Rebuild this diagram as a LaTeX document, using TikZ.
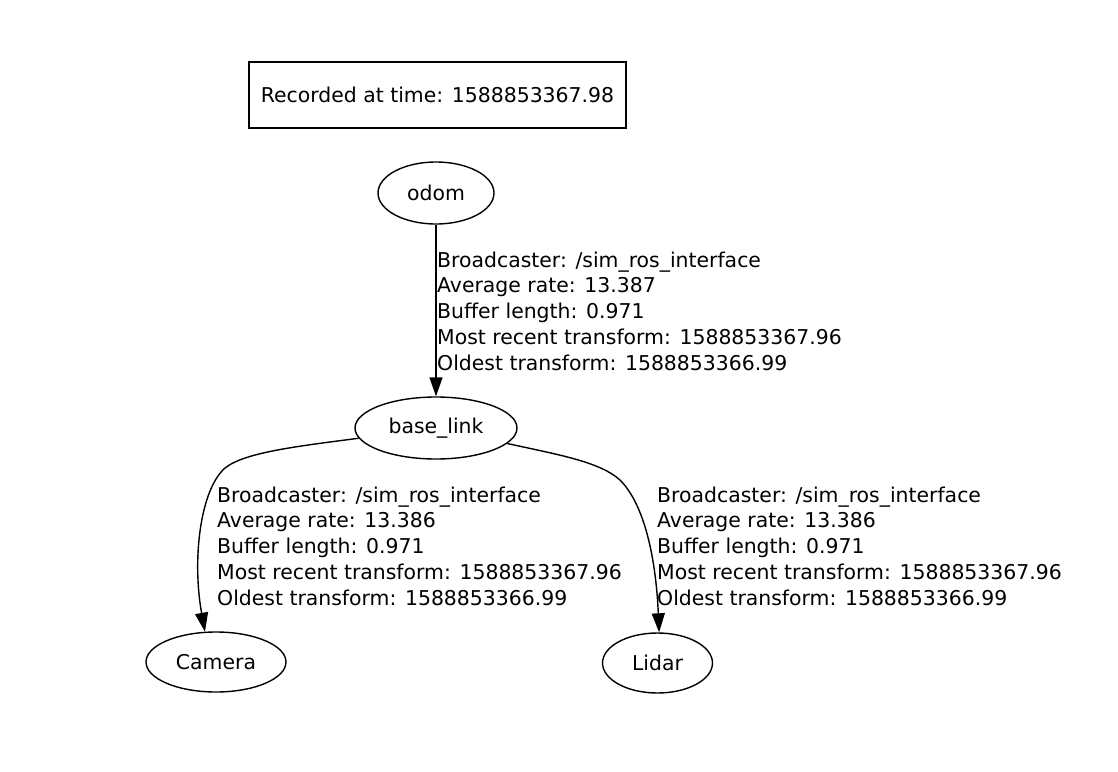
\documentclass[tikz,border=0pt]{standalone}
\usepackage{fontspec}
\setmainfont{DejaVu Sans}
\usetikzlibrary{shapes.geometric,arrows.meta}
\tikzset{
  frame/.style={ellipse, draw, line width=1.4pt, inner sep=0pt, font=\fontsize{20.4}{25.75}\selectfont},
  infobox/.style={rectangle, draw, line width=1.4pt, inner sep=0pt, font=\fontsize{20.4}{25.75}\selectfont},
  edgelabel/.style={anchor=north west, inner sep=0pt, align=left, font=\fontsize{20.4}{25.75}\selectfont},
  tfedge/.style={line width=1.4pt, -{Triangle[length=19pt,width=13pt]}}
}
\begin{document}
\begin{tikzpicture}[x=1pt,y=-1pt]
\useasboundingbox[fill=white] (0,0) rectangle (1118,771);
\node[infobox, minimum width=377pt, minimum height=66pt] (rec) at (437.5,95) {Recorded at time: 1588853367.98};
\node[frame, minimum width=116pt, minimum height=62pt] (odom) at (436,193) {odom};
\node[frame, minimum width=162pt, minimum height=62pt] (base) at (436,428) {base\_link};
\node[frame, minimum width=140pt, minimum height=60pt] (cam) at (216,662) {Camera};
\node[frame, minimum width=110pt, minimum height=60pt] (lidar) at (657.5,663) {Lidar};
\draw[tfedge] (odom.south) -- (base.north);
\draw[tfedge] (base) .. controls (300,446) and (245,452) .. (225,468) .. controls (200,490) and (192,560) .. (cam.110);
\draw[tfedge] (base) .. controls (560,455) and (600,462) .. (620,480) .. controls (645,505) and (656,560) .. (lidar.87);
\node[edgelabel] (l1) at (437,251.5) {Broadcaster: /sim\_ros\_interface\\Average rate: 13.387\\Buffer length: 0.971\\Most recent transform: 1588853367.96\\Oldest transform: 1588853366.99};
\node[edgelabel] (l2) at (217,486.5) {Broadcaster: /sim\_ros\_interface\\Average rate: 13.386\\Buffer length: 0.971\\Most recent transform: 1588853367.96\\Oldest transform: 1588853366.99};
\node[edgelabel] (l3) at (657,486.5) {Broadcaster: /sim\_ros\_interface\\Average rate: 13.386\\Buffer length: 0.971\\Most recent transform: 1588853367.96\\Oldest transform: 1588853366.99};
\end{tikzpicture}
\end{document}
